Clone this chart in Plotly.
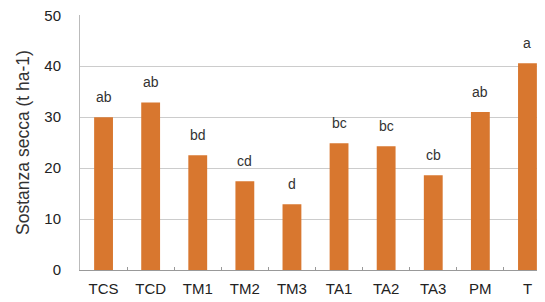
import plotly.graph_objects as go

categories = ["TCS", "TCD", "TM1", "TM2", "TM3", "TA1", "TA2", "TA3", "PM", "T"]
values = [30.0, 32.9, 22.5, 17.4, 12.9, 24.9, 24.3, 18.6, 31.0, 40.6]
letters = ["ab", "ab", "bd", "cd", "d", "bc", "bc", "cb", "ab", "a"]
y_ticks = [0, 10, 20, 30, 40, 50]

fig = go.Figure(go.Bar(
    x=categories, y=values, cliponaxis=False,
    marker=dict(color="#d8772f", line=dict(width=0)),
))
for c, v, t in zip(categories, values, letters):
    fig.add_annotation(x=c, y=v, text=t, showarrow=False, yanchor="bottom",
                       yshift=10, font=dict(size=14, color="#333333"))
fig.update_layout(
    width=537, height=294,
    margin=dict(l=72, r=2, t=7, b=32),
    paper_bgcolor="white", plot_bgcolor="white",
    font=dict(family="Liberation Sans, Arial, sans-serif", size=14, color="#333333"),
    bargap=0.6, showlegend=False,
)
fig.update_xaxes(
    automargin=False, range=[-0.5, 9.33],
    showline=True, linecolor="#999999", linewidth=1,
    ticks="inside", tickson="boundaries", ticklen=3, tickcolor="#999999",
    ticklabelstandoff=5, tickfont=dict(size=15, color="#222222"),
)
fig.update_yaxes(
    automargin=False,
    range=[0, 50.05], tickvals=y_ticks, showgrid=True, gridcolor="#cccccc",
    showline=True, linecolor="#bbbbbb", zeroline=False,
    ticks="", ticklabelstandoff=15, ticklabeloverflow="allow",
    tickfont=dict(size=15, color="#222222"),
    title=dict(text="Sostanza secca (t ha-1)", font=dict(size=17.5, color="#333333"), standoff=10),
)
fig.write_html("out.html")
